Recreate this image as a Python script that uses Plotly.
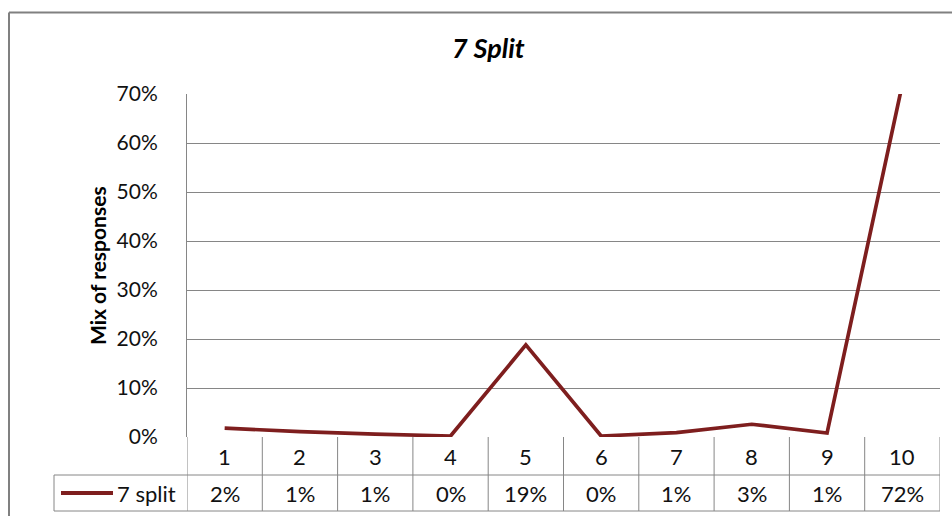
import plotly.graph_objects as go

categories = [1, 2, 3, 4, 5, 6, 7, 8, 9, 10]
series_name = "7 split"
values = [0.018, 0.011, 0.006, 0.002, 0.188, 0.002, 0.009, 0.026, 0.008, 0.72]
y_ticks = [0, 0.1, 0.2, 0.3, 0.4, 0.5, 0.6, 0.7]
y_tick_labels = ["0%", "10%", "20%", "30%", "40%", "50%", "60%", "70%"]
title_text = "7 Split"
y_title = "Mix of responses"

W, H = 952, 516
L, R, T, B = 187, 940, 94, 437
PW, PH = R - L, B - T

LINE_COLOR = "#7E1E1E"
GRID = "#868686"
FONT = "Lato"
TXT = "#111"

def ydom(px):
    return (B - px) / PH

def xdom(px):
    return (px - L) / PW

fig = go.Figure()
fig.add_trace(go.Scatter(
    x=categories, y=values, mode="lines", name=series_name,
    line=dict(color=LINE_COLOR, width=3.7), showlegend=False,
))

shapes = []
annotations = []

# outer chart border
shapes.append(dict(type="line", xref="paper", yref="paper",
                   x0=xdom(9), x1=xdom(960), y0=ydom(12.5), y1=ydom(12.5),
                   line=dict(color="#808080", width=2)))
shapes.append(dict(type="line", xref="paper", yref="paper",
                   x0=xdom(9), x1=xdom(9), y0=ydom(12.5), y1=ydom(530),
                   line=dict(color="#808080", width=2)))

# data table lines
row1 = ydom(475)
row2 = ydom(511)
for yy in (row1, row2):
    shapes.append(dict(type="line", xref="x domain", yref="y domain",
                       x0=xdom(54), x1=1, y0=yy, y1=yy,
                       line=dict(color=GRID, width=1)))
shapes.append(dict(type="line", xref="x domain", yref="y domain",
                   x0=xdom(54), x1=xdom(54), y0=row1, y1=row2,
                   line=dict(color=GRID, width=1)))
for i in range(len(categories) + 1):
    xb = categories[0] - 0.5 + i
    shapes.append(dict(type="line", xref="x", yref="y domain",
                       x0=xb, x1=xb, y0=0, y1=row2,
                       line=dict(color=GRID, width=1)))

# legend key in table
shapes.append(dict(type="line", xref="x domain", yref="y domain",
                   x0=xdom(61), x1=xdom(113), y0=ydom(493), y1=ydom(493),
                   line=dict(color=LINE_COLOR, width=4)))
annotations.append(dict(text=series_name, xref="x domain", yref="y domain",
                        x=xdom(115), y=ydom(493), xanchor="left", yanchor="middle",
                        showarrow=False, font=dict(family=FONT, size=22, color=TXT)))

for c, v in zip(categories, values):
    annotations.append(dict(text=str(c), xref="x", yref="y domain",
                            x=c, y=ydom(456), showarrow=False,
                            xanchor="center", yanchor="middle",
                            font=dict(family=FONT, size=22, color=TXT)))
    annotations.append(dict(text=f"{round(v * 100):.0f}%", xref="x", yref="y domain",
                            x=c, y=ydom(493), showarrow=False,
                            xanchor="center", yanchor="middle",
                            font=dict(family=FONT, size=22, color=TXT)))

# title
annotations.append(dict(text=f"<b><i>{title_text}</i></b>", xref="paper", yref="paper",
                        x=xdom(488), y=ydom(47), showarrow=False,
                        xanchor="center", yanchor="middle",
                        font=dict(family=FONT, size=27, color="#000")))
# y axis title
annotations.append(dict(text=f"<b>{y_title}</b>", xref="paper", yref="paper",
                        x=xdom(97), y=ydom(266), showarrow=False, textangle=-90,
                        xanchor="center", yanchor="middle",
                        font=dict(family=FONT, size=21, color="#000")))

fig.update_layout(
    width=W, height=H,
    margin=dict(l=L, r=W - R, t=T, b=H - B),
    paper_bgcolor="white", plot_bgcolor="white",
    shapes=shapes, annotations=annotations,
    xaxis=dict(range=[0.5, 10.5], showticklabels=False, showgrid=False,
               zeroline=False, showline=False, fixedrange=True),
    yaxis=dict(range=[0, 0.7], tickvals=y_ticks, ticktext=y_tick_labels,
               showgrid=True, gridcolor=GRID, gridwidth=1, zeroline=False,
               showline=True, linecolor=GRID, linewidth=1,
               ticks="", ticklabelstandoff=24,
               tickfont=dict(family=FONT, size=21, color=TXT)),
)

fig.write_html("out.html", config={"displayModeBar": False})

# remove the default page margin so the figure sits at the window's corner
with open("out.html", "r", encoding="utf-8") as f:
    html = f.read()
html = html.replace("<head>", "<head><style>html,body{margin:0;padding:0;overflow:hidden;}</style>", 1)
with open("out.html", "w", encoding="utf-8") as f:
    f.write(html)
